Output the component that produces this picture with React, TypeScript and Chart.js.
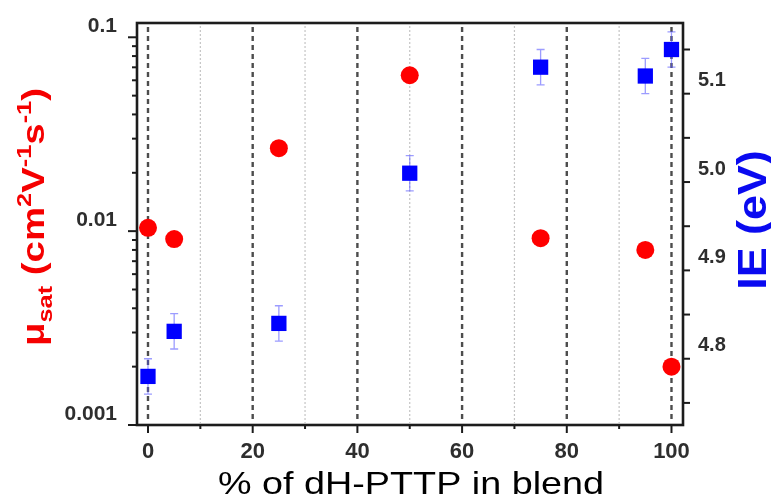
import { useEffect, useRef } from 'react';
import { Chart, registerables } from 'chart.js';

Chart.register(...registerables);

// ---- data ----
const blendPct = [0, 5, 25, 50, 75, 95, 100];
const mobility = [0.0104, 0.0091, 0.0268, 0.0637, 0.0092, 0.008, 0.002];
const ionEnergy = [4.78, 4.831, 4.84, 5.01, 5.13, 5.12, 5.15];
const ionEnergyErr = [0.02, 0.02, 0.02, 0.02, 0.02, 0.02, 0.02];

// ---- ticks ----
const xTickValues = [0, 20, 40, 60, 80, 100];
const xMinorTicks = [10, 30, 50, 70, 90];
const muTickValues = [0.001, 0.01, 0.1];
const muTickLabels = ['0.001', '0.01', '0.1'];
const muMinorTicks = [0.002, 0.003, 0.004, 0.005, 0.006, 0.007, 0.008, 0.009, 0.02, 0.03, 0.04, 0.05, 0.06, 0.07, 0.08, 0.09];
const ieTickValues = [4.8, 4.9, 5.0, 5.1];
const ieTickLabels = ['4.8', '4.9', '5.0', '5.1'];
const ieMinorTicks = [4.75, 4.85, 4.95, 5.05, 5.15];

const xTitle = '% of dH-PTTP in blend';
const ieTitle = 'IE (eV)';
const muTitleParts = [
  { t: 'μ', s: 1, dy: 0 },
  { t: 'sat', s: 0.66, dy: 0.24 },
  { t: ' (cm', s: 1, dy: 0 },
  { t: '2', s: 0.66, dy: -0.4 },
  { t: 'V', s: 1, dy: 0 },
  { t: '-1', s: 0.66, dy: -0.4 },
  { t: 's', s: 1, dy: 0 },
  { t: '-1', s: 0.66, dy: -0.4 },
  { t: ')', s: 1, dy: 0 },
];

const FONT = '"Liberation Sans", Arial, sans-serif';

const zeroPad = (s: any) => {
  s.paddingTop = 0;
  s.paddingBottom = 0;
  s.paddingLeft = 0;
  s.paddingRight = 0;
};

const decorPlugin = {
  id: 'decor',
  beforeDatasetsDraw(chart: any) {
    const { ctx, chartArea: a, scales } = chart;
    const xs = scales.x;
    const y1 = scales.y1;
    ctx.save();
    // light dotted grid lines
    ctx.strokeStyle = '#c4c4c4';
    ctx.lineWidth = 1.2;
    ctx.setLineDash([2, 2]);
    for (const v of xMinorTicks) {
      const px = xs.getPixelForValue(v);
      ctx.beginPath();
      ctx.moveTo(px, a.top + 3);
      ctx.lineTo(px, a.bottom - 2);
      ctx.stroke();
    }
    // dark dashed grid lines
    ctx.strokeStyle = '#4d4d4d';
    ctx.lineWidth = 2.4;
    ctx.setLineDash([5, 4]);
    for (const v of xTickValues) {
      const px = xs.getPixelForValue(v);
      ctx.beginPath();
      ctx.moveTo(px, a.top + 4);
      ctx.lineTo(px, a.bottom - 2);
      ctx.stroke();
    }
    // error bars
    ctx.setLineDash([]);
    ctx.strokeStyle = 'rgba(90,90,255,0.6)';
    ctx.lineWidth = 1.3;
    for (let i = 0; i < blendPct.length; i++) {
      const px = xs.getPixelForValue(blendPct[i]);
      const pt = y1.getPixelForValue(ionEnergy[i] + ionEnergyErr[i]);
      const pb = y1.getPixelForValue(ionEnergy[i] - ionEnergyErr[i]);
      ctx.beginPath();
      ctx.moveTo(px, pt);
      ctx.lineTo(px, pb);
      ctx.moveTo(px - 4, pt);
      ctx.lineTo(px + 4, pt);
      ctx.moveTo(px - 4, pb);
      ctx.lineTo(px + 4, pb);
      ctx.stroke();
    }
    ctx.restore();
  },
  afterDatasetsDraw(chart: any) {
    const { ctx, chartArea: a, scales } = chart;
    const xs = scales.x;
    const ys = scales.y;
    const y1 = scales.y1;
    ctx.save();
    ctx.strokeStyle = '#1c1c1c';
    ctx.lineWidth = 2;
    const tick = (x0: number, y0: number, x1: number, y1p: number) => {
      ctx.beginPath();
      ctx.moveTo(x0, y0);
      ctx.lineTo(x1, y1p);
      ctx.stroke();
    };
    for (const v of xTickValues) { const p = xs.getPixelForValue(v); tick(p, a.bottom, p, a.bottom + 8); }
    for (const v of xMinorTicks) { const p = xs.getPixelForValue(v); tick(p, a.bottom, p, a.bottom + 4); }
    for (const v of muTickValues) { const p = ys.getPixelForValue(v); tick(a.left, p, a.left - 9, p); }
    for (const v of muMinorTicks) { const p = ys.getPixelForValue(v); tick(a.left, p, a.left - 5, p); }
    for (const v of ieTickValues) { const p = y1.getPixelForValue(v); tick(a.right, p, a.right + 7, p); }
    for (const v of ieMinorTicks) { const p = y1.getPixelForValue(v); tick(a.right, p, a.right + 7, p); }
    // frame
    ctx.lineWidth = 2.6;
    ctx.strokeRect(a.left, a.top, a.right - a.left, a.bottom - a.top);
    ctx.restore();
  },
  afterDraw(chart: any) {
    const { ctx, chartArea: a } = chart;
    ctx.save();
    // bottom title
    ctx.fillStyle = '#000';
    ctx.font = `32px ${FONT}`;
    ctx.textAlign = 'center';
    ctx.textBaseline = 'alphabetic';
    ctx.save();
    ctx.translate((a.left + a.right) / 2 + 1, 494);
    ctx.scale(1.18, 1);
    ctx.fillText(xTitle, 0, 0);
    ctx.restore();

    // right title
    ctx.fillStyle = '#0a0af0';
    ctx.font = `bold 40px ${FONT}`;
    ctx.save();
    ctx.translate(766, 220);
    ctx.rotate(-Math.PI / 2);
    ctx.scale(1.12, 1);
    ctx.textAlign = 'center';
    ctx.fillText(ieTitle, 0, 0);
    ctx.restore();

    // left title with sub/superscripts
    const base = 32;
    ctx.fillStyle = '#f50000';
    ctx.textAlign = 'left';
    let total = 0;
    for (const p of muTitleParts) {
      ctx.font = `bold ${base * p.s}px ${FONT}`;
      total += ctx.measureText(p.t).width;
    }
    ctx.save();
    ctx.translate(44, 217);
    ctx.rotate(-Math.PI / 2);
    ctx.scale(1.2, 1);
    let x = -total / 2;
    for (const p of muTitleParts) {
      ctx.font = `bold ${base * p.s}px ${FONT}`;
      ctx.fillText(p.t, x, p.dy * base);
      x += ctx.measureText(p.t).width;
    }
    ctx.restore();
    ctx.restore();
  },
};

export default function App() {
  const ref = useRef<HTMLCanvasElement | null>(null);
  useEffect(() => {
    if (!ref.current) return;
    const tickFont = { family: FONT, size: 21, weight: 'bold' as const };
    const chart = new Chart(ref.current, {
      type: 'scatter',
      data: {
        datasets: [
          {
            label: 'mobility',
            data: blendPct.map((x, i) => ({ x, y: mobility[i] })),
            yAxisID: 'y',
            pointStyle: 'circle',
            pointRadius: 9,
            pointBackgroundColor: '#ff0000',
            pointBorderWidth: 0,
            showLine: false,
          },
          {
            label: 'IE',
            data: blendPct.map((x, i) => ({ x, y: ionEnergy[i] })),
            yAxisID: 'y1',
            pointStyle: 'rect',
            pointRadius: 10.8,
            pointBackgroundColor: '#0000ff',
            pointBorderWidth: 0,
            showLine: false,
          },
        ],
      },
      options: {
        responsive: false,
        animation: false,
        events: [],
        layout: { padding: { top: 23, left: 0, right: 0, bottom: 0 } },
        plugins: { legend: { display: false }, tooltip: { enabled: false } },
        scales: {
          x: {
            type: 'linear',
            min: -2.1,
            max: 102.2,
            grid: { display: false, drawTicks: false },
            border: { display: false },
            afterBuildTicks: (s: any) => { s.ticks = xTickValues.map((v) => ({ value: v })); },
            afterFit: (s: any) => { s.height = 75; zeroPad(s); },
            ticks: { font: { ...tickFont, size: 22 }, color: '#2e2e2e', padding: 14, maxRotation: 0, callback: (v: any) => String(v) },
          },
          y: {
            type: 'logarithmic',
            position: 'left',
            min: 0.001,
            max: 0.1185,
            grid: { display: false, drawTicks: false },
            border: { display: false },
            afterBuildTicks: (s: any) => { s.ticks = muTickValues.map((v) => ({ value: v })); },
            afterFit: (s: any) => { s.width = 137; zeroPad(s); },
            ticks: { font: tickFont, color: '#2e2e2e', padding: 20, labelOffset: -11, callback: (_v: any, i: number) => muTickLabels[i] },
          },
          y1: {
            type: 'linear',
            position: 'right',
            min: 4.725,
            max: 5.18,
            grid: { display: false, drawTicks: false },
            border: { display: false },
            afterBuildTicks: (s: any) => { s.ticks = ieTickValues.map((v) => ({ value: v })); },
            afterFit: (s: any) => { s.width = 88; zeroPad(s); },
            ticks: { font: { ...tickFont, size: 20 }, color: '#2e2e2e', padding: 15, labelOffset: -13, callback: (_v: any, i: number) => ieTickLabels[i] },
          },
        },
      } as any,
      plugins: [decorPlugin],
    });
    return () => chart.destroy();
  }, []);
  return (
    <div style={{ position: 'absolute', left: 0, top: 0, width: 771, height: 500, background: '#fff' }}>
      <canvas ref={ref} width={771} height={500} style={{ display: 'block' }} />
    </div>
  );
}
